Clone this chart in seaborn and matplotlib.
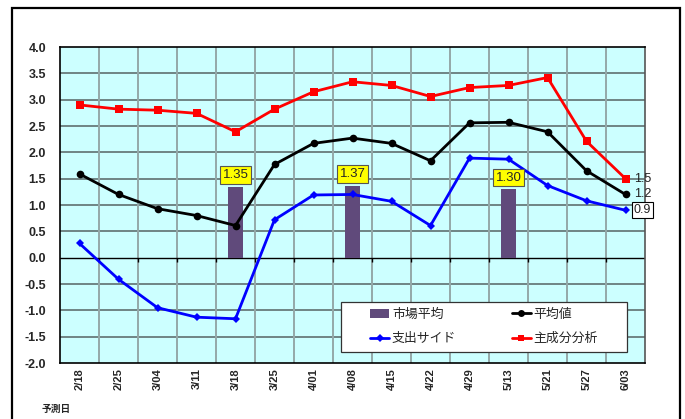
import numpy as np
import pandas as pd
import matplotlib
matplotlib.use("Agg")
import matplotlib.pyplot as plt
from matplotlib.patches import Rectangle
from matplotlib.lines import Line2D
import seaborn as sns

sns.set_style("white")
plt.rcParams["font.family"] = ["Liberation Sans", "Noto Sans CJK JP"]

# ---- data ----
dates = ["2/18", "2/25", "3/04", "3/11", "3/18", "3/25", "4/01", "4/08",
         "4/15", "4/22", "4/29", "5/13", "5/21", "5/27", "6/03"]
market_dates = ["3/18", "4/08", "5/13"]
market_avg = [1.35, 1.37, 1.30]
mean_val = [1.59, 1.20, 0.93, 0.80, 0.61, 1.77, 2.17, 2.27,
            2.17, 1.84, 2.56, 2.57, 2.39, 1.65, 1.20]
spending = [0.27, -0.41, -0.95, -1.13, -1.16, 0.72, 1.19, 1.20,
            1.07, 0.61, 1.89, 1.87, 1.37, 1.08, 0.90]
pca = [2.90, 2.82, 2.80, 2.74, 2.39, 2.82, 3.15, 3.34,
       3.27, 3.06, 3.23, 3.27, 3.42, 2.21, 1.50]
yticks = [-2.0, -1.5, -1.0, -0.5, 0.0, 0.5, 1.0, 1.5, 2.0, 2.5, 3.0, 3.5, 4.0]

BAR = "#604A7B"
BG = "#CCFFFF"
W, H = 685, 419

fig = plt.figure(figsize=(6.85, 4.19), dpi=100)
fig.patch.set_facecolor("white")
AX_L, AX_R, AX_T, AX_B = 60, 645, 47, 363
ax = fig.add_axes([AX_L / W, (H - AX_B) / H, (AX_R - AX_L) / W, (AX_B - AX_T) / H])
ax.set_facecolor(BG)


def px_to_axes(x, y):
    return (x - AX_L) / (AX_R - AX_L), (AX_B - y) / (AX_B - AX_T)


pos = np.arange(len(dates))

# bars for the market average
bar_df = pd.DataFrame({"date": market_dates, "value": market_avg})
sns.barplot(data=bar_df, x="date", y="value", order=dates, color=BAR,
            saturation=1, width=0.38, ax=ax, zorder=3)
for p in ax.patches:
    p.set_edgecolor("none")

# line series
line_df = pd.DataFrame({"x": pos, "mean": mean_val, "spend": spending, "pca": pca})
sns.lineplot(data=line_df, x="x", y="spend", color="#0000FF", linewidth=2.0,
             marker="D", markersize=4.2, markeredgewidth=0, ax=ax, zorder=5)
sns.lineplot(data=line_df, x="x", y="mean", color="black", linewidth=2.0,
             marker="o", markersize=5.5, markeredgewidth=0, ax=ax, zorder=6)
sns.lineplot(data=line_df, x="x", y="pca", color="#FF0000", linewidth=2.0,
             marker="s", markersize=6, markeredgewidth=0, ax=ax, zorder=7)

ax.set_xlim(-0.5, len(dates) - 0.5)
ax.set_ylim(-2.0, 4.0)
ax.set_yticks(yticks)
ax.set_yticklabels([f"{v:.1f}" for v in yticks], fontsize=9, fontweight="bold")
ax.set_xticks(pos)
ax.set_xticklabels(dates, rotation=90, fontsize=8, fontweight="bold")
ax.tick_params(axis="both", length=0)
ax.tick_params(axis="x", pad=4)
ax.tick_params(axis="y", pad=10)
ax.set_xlabel("")
ax.set_ylabel("")

# grid
for yv in yticks[1:-1]:
    if yv != 0:
        ax.axhline(yv, color="#5F6F6F", linewidth=1.2, zorder=1)
for xb in np.arange(0.5, len(dates) - 0.5, 1.0):
    ax.axvline(xb, color="#94A8A8", linewidth=1.4, zorder=1)
ax.axhline(0, color="black", linewidth=1.0, zorder=2)
ax.vlines(np.arange(0.5, len(dates) - 0.5, 1.0), 0, -0.08, color="black",
          linewidth=1.0, zorder=2)

for side in ["left", "bottom", "top"]:
    ax.spines[side].set_color("black")
    ax.spines[side].set_linewidth(1.2)
ax.spines["right"].set_color("#555555")
ax.spines["right"].set_linewidth(1.2)

# value boxes above the bars
for d, v in zip(market_dates, market_avg):
    ax.annotate(f"{v:.2f}", xy=(dates.index(d), v), xytext=(0, 4),
                textcoords="offset points", ha="center", va="bottom",
                fontsize=9.5, zorder=9,
                bbox=dict(boxstyle="square,pad=0.2", facecolor="#FFFF00",
                          edgecolor="#555555", linewidth=0.8))

# end-of-line labels
last = len(dates) - 1
for val, boxed in [(pca[-1], False), (mean_val[-1], False), (spending[-1], True)]:
    kw = {}
    if boxed:
        kw["bbox"] = dict(boxstyle="square,pad=0.15", facecolor="white",
                          edgecolor="black", linewidth=0.8)
    ax.annotate(f"{val:.1f}", xy=(last, val), xytext=(6, 0),
                textcoords="offset points", ha="left", va="center",
                fontsize=9, color="#222222", annotation_clip=False, zorder=9,
                **kw)

# legend frame and entries
fx0, fy0 = px_to_axes(341, 352)
fx1, fy1 = px_to_axes(627, 302)
ax.add_patch(Rectangle((fx0, fy0), fx1 - fx0, fy1 - fy0, transform=ax.transAxes,
                       facecolor="white", edgecolor="#333333", linewidth=0.9,
                       zorder=10))
handles = [
    Rectangle((0, 0), 1, 1, facecolor=BAR, edgecolor="none"),
    Line2D([], [], color="#0000FF", lw=2.0, marker="D", ms=4, mew=0),
    Line2D([], [], color="black", lw=2.0, marker="o", ms=5, mew=0),
    Line2D([], [], color="#FF0000", lw=2.0, marker="s", ms=5, mew=0),
]
labels = ["市場平均", "支出サイド", "平均値", "主成分分析"]
lx0, _ = px_to_axes(370, 0)
lx1, _ = px_to_axes(598, 0)
leg = ax.legend(handles, labels, ncol=2, loc="center left",
                bbox_to_anchor=(lx0, fy0, lx1 - lx0, fy1 - fy0), mode="expand",
                fontsize=9.3, frameon=False, borderaxespad=0, borderpad=0,
                handlelength=1.5, handletextpad=0.2, labelspacing=0.95,
                columnspacing=1.0)
leg.set_zorder(11)

# axis caption
fig.text(42 / W, 1 - 409 / H, "予測日", fontsize=7, fontweight="bold",
         ha="left", va="center")

# outer chart frame
fig.patches.append(Rectangle((12 / W, -0.05), 668 / W, 1.05 - 8 / H,
                             transform=fig.transFigure, fill=False,
                             edgecolor="black", linewidth=1.6))

fig.savefig("out.png", dpi=100)
